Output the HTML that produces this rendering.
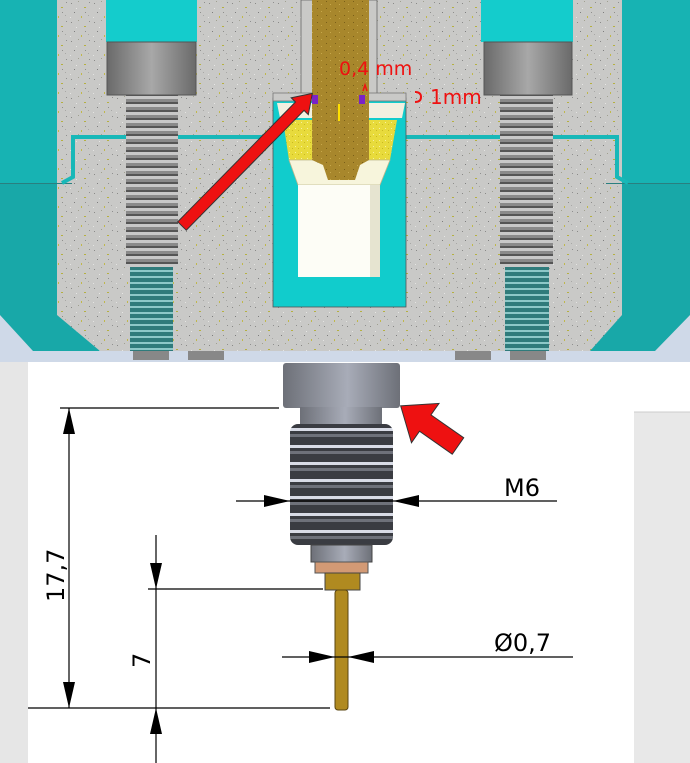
<!DOCTYPE html>
<html><head><meta charset="utf-8"><style>
html,body{margin:0;padding:0;background:#fff}
svg{display:block}
text{font-family:"DejaVu Sans","Liberation Sans",sans-serif}
</style></head><body>
<svg width="690" height="763" viewBox="0 0 690 763" xmlns="http://www.w3.org/2000/svg">
<defs>
<pattern id="conc" width="23" height="19" patternUnits="userSpaceOnUse">
<rect width="23" height="19" fill="#c9c9c7"/>
<rect x="2" y="3" width="1" height="1" fill="#8a8a88"/><rect x="9" y="1" width="1" height="1" fill="#a0a090"/>
<rect x="15" y="7" width="2" height="1" fill="#b5b040"/><rect x="5" y="12" width="1" height="1" fill="#7e7e7e"/>
<rect x="19" y="15" width="1" height="1" fill="#a8a8a6"/><rect x="12" y="16" width="1" height="2" fill="#c0b84a"/>
<rect x="20" y="2" width="1" height="1" fill="#909090"/><rect x="7" y="8" width="1" height="1" fill="#e6e6e4"/>
<rect x="1" y="17" width="1" height="1" fill="#e4e4e2"/><rect x="16" y="12" width="1" height="1" fill="#8f8f8d"/>
</pattern>
<pattern id="thr" width="8" height="8" patternUnits="userSpaceOnUse">
<rect width="8" height="8" fill="#8a8a8a"/><rect y="0" width="8" height="3" fill="#c8c8c8"/><rect y="6" width="8" height="2" fill="#555"/>
</pattern>
<pattern id="thrt" width="8" height="6" patternUnits="userSpaceOnUse">
<rect width="8" height="6" fill="#2f7b7b"/><rect width="8" height="2" fill="#8cc8c8"/>
</pattern>
<pattern id="brass" width="9" height="7" patternUnits="userSpaceOnUse">
<rect width="9" height="7" fill="#a8872c"/><rect x="2" y="1" width="1" height="1" fill="#7a5f18"/><rect x="6" y="4" width="1" height="1" fill="#c7a84a"/>
</pattern>
<pattern id="yel" width="6" height="6" patternUnits="userSpaceOnUse">
<rect width="6" height="6" fill="#e8db3c"/><rect x="1" y="2" width="1" height="1" fill="#f7f0a0"/><rect x="4" y="4" width="1" height="1" fill="#c9b820"/>
</pattern>
<linearGradient id="bh" x1="0" x2="1"><stop offset="0" stop-color="#6a6a6a"/><stop offset=".5" stop-color="#a8a8a8"/><stop offset="1" stop-color="#6a6a6a"/></linearGradient>
<linearGradient id="nz" x1="0" x2="1"><stop offset="0" stop-color="#6d7078"/><stop offset=".55" stop-color="#a8acb8"/><stop offset="1" stop-color="#6d7078"/></linearGradient>
<pattern id="nthr" width="10" height="17" patternUnits="userSpaceOnUse">
<rect width="10" height="17" fill="#3a3c42"/><rect y="3" width="10" height="3" fill="#d8dbe6"/><rect y="9" width="10" height="3" fill="#6e717a"/>
</pattern>
</defs>

<rect x="0" y="0" width="690" height="362" fill="#cfd9e8"/>
<polygon points="0,0 690,0 690,315 655,351 33,351 0,315" fill="url(#conc)"/>
<rect x="0" y="0" width="57" height="183" fill="#17b3b3"/>
<polygon points="0,184 57,184 57,315 100,351 33,351 0,315" fill="#18a8a8"/>
<line x1="0" y1="183.5" x2="72" y2="183.5" stroke="#2a7f7f"/>
<rect x="622" y="0" width="68" height="183" fill="#17b3b3"/>
<polygon points="622,184 690,184 690,315 655,351 590,351 622,315" fill="#18a8a8"/>
<line x1="606" y1="183.5" x2="690" y2="183.5" stroke="#2a7f7f"/>
<polyline points="62,183 73,177 73,137 273,137" fill="none" stroke="#18b8b8" stroke-width="4"/>
<polyline points="628,183 617,177 617,137 406,137" fill="none" stroke="#18b8b8" stroke-width="4"/>
<rect x="106" y="0" width="91" height="42" fill="#14cccc"/>
<rect x="107" y="42" width="89" height="53" fill="url(#bh)" stroke="#555"/>
<rect x="126" y="95" width="52" height="172" fill="url(#thr)"/>
<rect x="130" y="267" width="43" height="84" fill="url(#thrt)"/>
<rect x="133" y="351" width="36" height="9" fill="#888"/>
<rect x="188" y="351" width="36" height="9" fill="#888"/>
<rect x="481" y="0" width="92" height="42" fill="#14cccc"/>
<rect x="484" y="42" width="88" height="53" fill="url(#bh)" stroke="#555"/>
<rect x="500" y="95" width="53" height="172" fill="url(#thr)"/>
<rect x="505" y="267" width="44" height="84" fill="url(#thrt)"/>
<rect x="455" y="351" width="36" height="9" fill="#888"/>
<rect x="510" y="351" width="36" height="9" fill="#888"/>
<rect x="273" y="98" width="133" height="209" fill="#11cccc" stroke="#555" stroke-width=".8"/>
<rect x="301" y="0" width="76" height="98" fill="#c9c9c7" stroke="#666" stroke-width=".8"/>
<rect x="273" y="93" width="133" height="8" fill="#c9c9c7" stroke="#777" stroke-width=".8"/>
<polygon points="277,103 405,103 402,118 280,118" fill="#f2f0e0"/>
<polygon points="283,120 397,120 390,160 289,160" fill="url(#yel)"/>
<polygon points="289,160 390,160 380,185 298,185" fill="#f7f5dc" stroke="#bdb68c" stroke-width=".8"/>
<rect x="298" y="185" width="82" height="92" fill="#fdfdf6"/>
<rect x="370" y="185" width="10" height="92" fill="#e6e4d0"/>
<polygon points="312,0 369,0 369,160 360,165 355,180 328,180 323,165 312,160" fill="url(#brass)"/>
<rect x="312" y="95" width="6" height="9" fill="#7a22c8"/>
<rect x="359" y="95" width="6" height="9" fill="#7a22c8"/>
<rect x="338" y="104" width="2" height="17" fill="#ffe000"/>
<g transform="translate(182,226) rotate(-45.5)">
<polygon points="0,-6 168,-6 168,-12 186,0 168,12 168,6 0,6" fill="#ee1111" stroke="#333" stroke-width="1"/>
</g>
<text x="339" y="75" font-size="19" fill="#ee1111" font-family="Liberation Sans, sans-serif">0,4 mm</text>
<text x="430" y="104" font-size="20" fill="#ee1111" font-family="Liberation Sans, sans-serif">1mm</text>
<path d="M415,92 q6,0 6,5 q0,5 -6,5" fill="none" stroke="#ee1111" stroke-width="2"/>
<path d="M363,91 l2,-6 l2,6" fill="none" stroke="#ee1111" stroke-width="1.5"/>

<rect x="0" y="362" width="690" height="401" fill="#fff"/>
<rect x="0" y="362" width="28" height="401" fill="#e6e6e6"/>
<rect x="634" y="412" width="56" height="351" fill="#e8e8e8"/>
<line x1="634" y1="412" x2="690" y2="412" stroke="#ccc"/>
<rect x="283" y="363" width="117" height="45" rx="3" fill="url(#nz)"/>
<rect x="300" y="407" width="82" height="17" fill="url(#nz)"/>
<rect x="290" y="424" width="103" height="121" rx="8" fill="url(#nthr)"/>
<rect x="311" y="545" width="61" height="17" fill="url(#nz)" stroke="#444"/>
<rect x="315" y="562" width="53" height="11" fill="#d39a75" stroke="#555"/>
<rect x="325" y="573" width="35" height="17" fill="#b08a20" stroke="#444"/>
<rect x="335" y="590" width="13" height="120" rx="3" fill="#b08a20" stroke="#5a4510"/>
<g stroke="#000" stroke-width="1.2" fill="none">
<line x1="60" y1="408" x2="279" y2="408"/>
<line x1="69" y1="408" x2="69" y2="708"/>
<line x1="28" y1="708" x2="330" y2="708"/>
<line x1="156" y1="535" x2="156" y2="763"/>
<line x1="148" y1="589" x2="323" y2="589"/>
<line x1="236" y1="501" x2="557" y2="501"/>
<line x1="282" y1="657" x2="573" y2="657"/>
</g>
<g fill="#000">
<polygon points="69,408 63,434 75,434"/><polygon points="69,708 63,682 75,682"/>
<polygon points="156,589 150,563 162,563"/><polygon points="156,708 150,734 162,734"/>
<polygon points="290,501 264,495 264,507"/><polygon points="393,501 419,495 419,507"/>
<polygon points="335,657 309,651 309,663"/><polygon points="348,657 374,651 374,663"/>
</g>
<text transform="translate(64,602) rotate(-90)" font-size="24" fill="#000">17,7</text>
<text transform="translate(150,668) rotate(-90)" font-size="24" fill="#000">7</text>
<text x="504" y="496" font-size="24" fill="#000">M6</text>
<text x="494" y="651" font-size="24" fill="#000">Ø0,7</text>
<g transform="translate(458,446) rotate(-145)">
<polygon points="0,-10 40,-10 40,-24 70,0 40,24 40,10 0,10" fill="#ee1111" stroke="#333" stroke-width="1"/>
</g>
</svg>
</body></html>
